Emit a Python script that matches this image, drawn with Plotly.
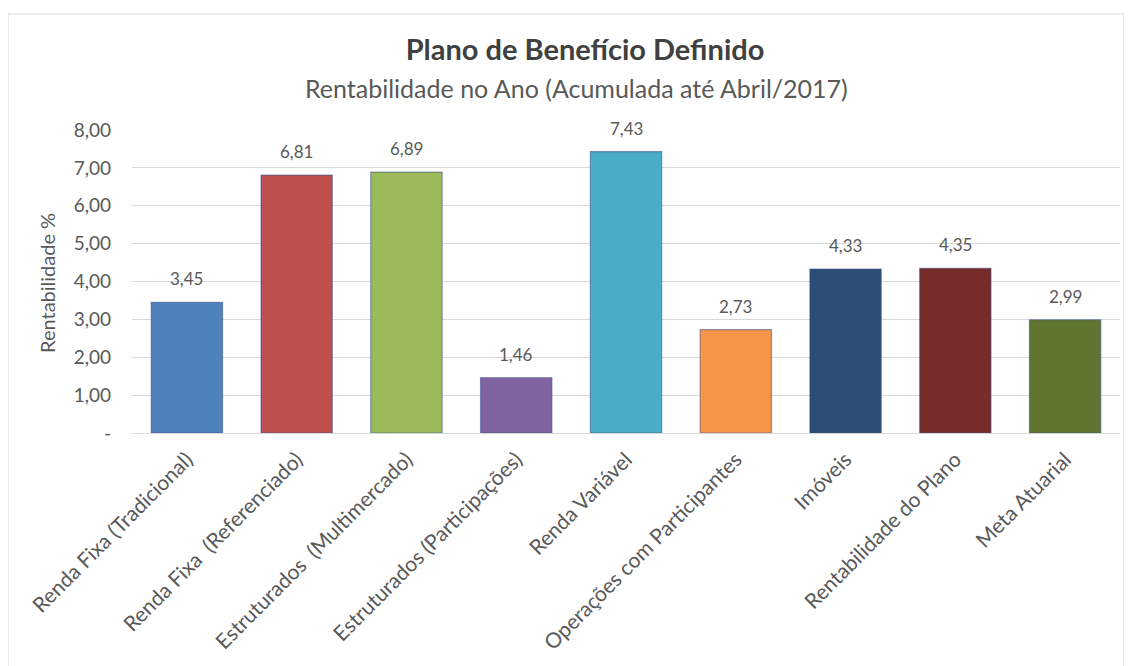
import plotly.graph_objects as go

categories = [
    "Renda Fixa (Tradicional)",
    "Renda Fixa  (Referenciado)",
    "Estruturados  (Multimercado)",
    "Estruturados (Participações)",
    "Renda Variável",
    "Operações com Participantes",
    "Imóveis",
    "Rentabilidade do Plano",
    "Meta Atuarial",
]
values = [3.45, 6.81, 6.89, 1.46, 7.43, 2.73, 4.33, 4.35, 2.99]
colors = ["#4F81BD", "#C0504D", "#9BBB59", "#8064A2", "#4BACC6",
          "#F79646", "#2C4D75", "#772C2A", "#5F7530"]
tick_vals = [0, 1, 2, 3, 4, 5, 6, 7, 8]
tick_text = ["-", "1,00", "2,00", "3,00", "4,00", "5,00", "6,00", "7,00", "8,00"]

FONT = "Lato"
GRAY = "#595959"

# page offset of the plot div (body margin)
OFF = 8
PL, PR, PT, PB = 132, 1120, 130, 433  # plot area in page pixels
PW, PH = PR - PL, PB - PT


def px_x(x):
    return (x - PL) / PW


def px_y(y):
    return (PB - y) / PH


fig = go.Figure(go.Bar(
    x=categories, y=values,
    marker=dict(color=colors, line=dict(color="rgba(60,80,140,0.55)", width=1.2)),
    hoverinfo="x+y",
))

label_annotations = [
    dict(x=c, y=v, xref="x", yref="y", text=f"{v:.2f}".replace(".", ","),
         showarrow=False, yanchor="bottom", yshift=11,
         font=dict(family=FONT, size=17, color=GRAY))
    for c, v in zip(categories, values)
]

fig.update_layout(
    width=1132, height=666,
    separators=",.",
    paper_bgcolor="white", plot_bgcolor="white",
    margin=dict(l=PL - OFF, r=1132 + OFF - PR, t=PT - OFF, b=666 + OFF - PB, autoexpand=False),
    bargap=0.35,
    showlegend=False,
    font=dict(family=FONT, color=GRAY),
    title=dict(text="<b>Plano de Benefício Definido</b>", x=(585 - OFF) / 1132, xanchor="center",
               y=1 - (50 - OFF) / 666, yanchor="middle", yref="container",
               font=dict(family=FONT, size=29, color="#404040")),
    annotations=label_annotations + [
        dict(text="Rentabilidade no Ano (Acumulada até Abril/2017)", xref="paper", yref="paper",
             x=px_x(576), y=px_y(88), xanchor="center", yanchor="middle", showarrow=False,
             font=dict(family=FONT, size=25, color=GRAY)),
        dict(text="Rentabilidade %", xref="paper", yref="paper", x=px_x(47), y=px_y(283),
             textangle=-90, xanchor="center", yanchor="middle", showarrow=False,
             font=dict(family=FONT, size=20, color=GRAY)),
    ],
    shapes=[
        dict(type="rect", xref="paper", yref="paper",
             x0=px_x(8), x1=px_x(1124), y0=px_y(700), y1=px_y(14),
             line=dict(color="#D9D9D9", width=1), fillcolor="rgba(0,0,0,0)", layer="below"),
    ],
)

fig.update_yaxes(range=[0, 8], tickvals=tick_vals, ticktext=tick_text,
                 showgrid=True, gridcolor="#D9D9D9", gridwidth=1,
                 zeroline=False, showline=False,
                 ticklabelstandoff=20,
                 tickfont=dict(family=FONT, size=19, color=GRAY))
fig.update_xaxes(tickangle=-45, showline=True, linecolor="#D9D9D9", linewidth=1,
                 ticklabelstandoff=5,
                 tickfont=dict(family=FONT, size=21, color=GRAY))

fig.write_html("out.html")
